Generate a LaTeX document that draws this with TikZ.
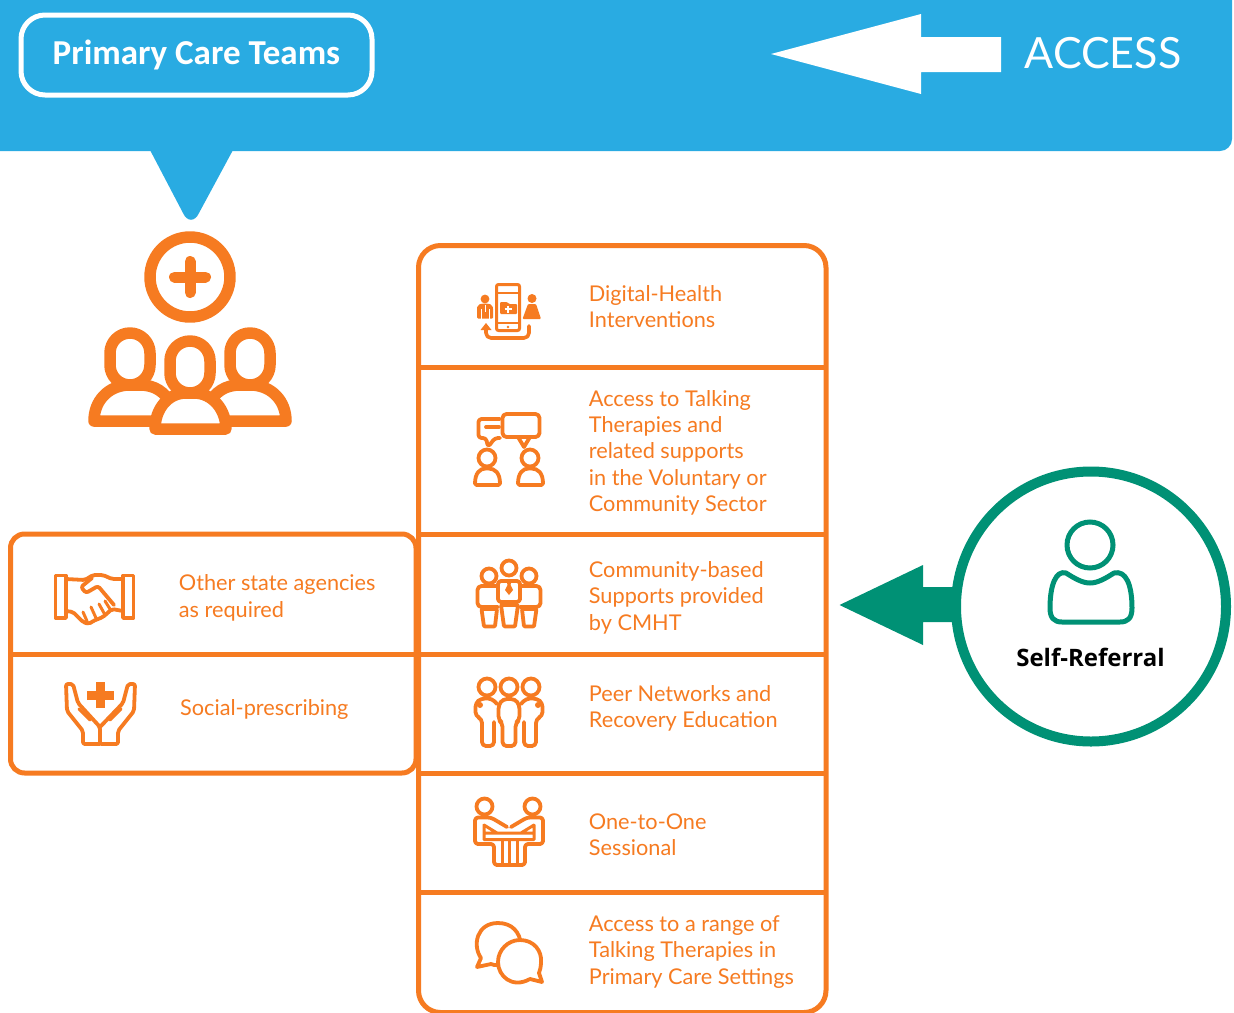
\documentclass[tikz,border=0pt]{standalone}
\usepackage{fontspec}
\setmainfont{Lato}
\newfontfamily\titlefont{Carlito}
\newfontfamily\selffont{Open Sans}
\definecolor{sky}{HTML}{29ABE2}
\definecolor{orng}{HTML}{F67B21}
\definecolor{teal}{HTML}{009175}
\tikzset{
  panel/.style={draw=orng,line width=5pt,fill=white},
  rowline/.style={draw=orng,line width=5pt},
  rowtext/.style={anchor=west,inner sep=0pt,align=left,text=orng,font=\fontsize{21.7}{26.4}\selectfont},
  ico/.style={draw=orng,line width=3.8pt,line join=round,line cap=round},
  icofill/.style={fill=orng,draw=none},
  bigico/.style={draw=orng,line width=11.5pt,line join=round,line cap=round},
}
\begin{document}
\begin{tikzpicture}[x=1pt,y=-1pt]
\useasboundingbox (0,0) rectangle (1234,1012);
% --- blue banner
\fill[sky,rounded corners=12pt] (-20,-20) -- (1232,-20) -- (1232,151) -- (-20,151) -- cycle;
\fill[sky] (150,150) -- (183,213) .. controls (187,222) and (195,222) .. (199,213) -- (233,150) -- cycle;
\node[draw=white,line width=5pt,rounded corners=24pt,minimum width=351pt,minimum height=80pt,inner sep=0pt,
  text=white,font=\titlefont\bfseries\fontsize{35}{40}\selectfont] (primary) at (196.5,55) {\raisebox{-1pt}{Primary Care Teams}};
\fill[white] (771,54) -- (921,14) -- (921,37) -- (1001,37) -- (1001,72) -- (921,72) -- (921,94) -- cycle;
\node[text=white,inner sep=0pt,font=\fontsize{43}{48}\selectfont,anchor=center] (access) at (1103,53.5) {ACCESS};
% --- team icon
\draw[bigico] (190,277) circle (40);
\draw[draw=orng,line width=11pt,line cap=round] (174.5,277) -- (205.5,277) (190,261.5) -- (190,292.5);
\foreach \hx/\hy in {130/333,250/333,190/341}{
  \draw[bigico,rounded corners=20pt] (\hx-20,\hy) rectangle (\hx+20,\hy+52);
}
\draw[bigico] (94,421) .. controls (94,401) and (108,386) .. (128,385) -- (140,385) .. controls (155,385) and (165,392) .. (172,405) (94,421) -- (160,421);
\draw[bigico] (286,421) .. controls (286,401) and (272,386) .. (252,385) -- (240,385) .. controls (225,385) and (215,392) .. (208,405) (286,421) -- (220,421);
\draw[bigico,fill=white] (155,429) .. controls (155,409) and (168,393) .. (186,393) -- (194,393) .. controls (212,393) and (226,409) .. (226,429) -- cycle;
% --- panels
\draw[panel,rounded corners=14pt] (10.5,534) rectangle (416,773);
\draw[panel,rounded corners=22pt] (418.5,245.5) rectangle (826,1012.5);
\foreach \yy in {367,534,654,773,892}{ \draw[rowline] (418.5,\yy) -- (826,\yy); }
\draw[rowline] (10.5,654) -- (418.5,654);
% --- texts
\node[rowtext] (t1) at (588.7,306.5) {Digital-Health\\Interventions};
\node[rowtext] (t2) at (588.7,452.7) {Access to Talking\\Therapies and\\related supports\\in the Voluntary or\\Community Sector};
\node[rowtext] (t3) at (588.7,597.5) {Community-based\\Supports provided\\by CMHT};
\node[rowtext] (t4) at (588.7,708.5) {Peer Networks and\\Recovery Education};
\node[rowtext] (t5) at (588.7,835) {One-to-One\\Sessional};
\node[rowtext] (t6) at (588.7,952) {Access to a range of\\Talking Therapies in\\Primary Care Settings};
\node[rowtext] (t7) at (178.7,598) {Other state agencies\\as required};
\node[rowtext] (t8) at (180,709) {Social-prescribing};
% --- digital icon
\draw[ico,line width=3pt,rounded corners=2pt] (496.5,284.5) rectangle (519.5,330.5);
\draw[ico,line width=2.4pt] (496.5,293) -- (519.5,293) (496.5,323) -- (519.5,323);
\fill[orng,rounded corners=1pt] (500,302) -- (507,302) -- (509,304) -- (517,304) -- (517,314) -- (500,314) -- cycle;
\draw[white,line width=1.5pt] (504.5,309) -- (511.5,309) (508,305.5) -- (508,312.5);
\fill[orng] (508,327) circle (1.3);
\draw[ico,line width=3.6pt,rounded corners=5pt] (529,326) -- (529,338) -- (486,338) -- (486,328);
\fill[orng] (480.5,330) -- (486,323) -- (491.5,330) -- cycle;
% doctor
\fill[orng] (485,299) circle (4.4);
\fill[orng,rounded corners=1pt] (477,318.5) -- (477,308) .. controls (478,304) and (480,304) .. (485,303.5) .. controls (490,304) and (492,304) .. (493,308) -- (493,318.5) -- cycle;
\draw[white,line width=1pt] (485,305) -- (485,312) (481,309) -- (481,318.5) (489,309) -- (489,318.5);
% nurse
\fill[orng] (532,298.5) circle (4.5);
\fill[orng,rounded corners=1pt] (528,304) -- (536,304) -- (541,319) -- (522.5,319) -- cycle;
% --- talking icon
\draw[ico,rounded corners=3pt] (500,438) -- (495,438) -- (488,447) -- (486,438) -- (478.5,438) -- (478.5,419) -- (500,419);
\draw[ico] (486,427) -- (499,427);
\draw[ico,rounded corners=4pt] (502.5,414) rectangle (539.5,437);
\draw[ico] (518,437) -- (524,447) -- (530,437);
\draw[ico,fill=white] (487,458) circle (8.5);
\draw[ico,fill=white] (530,458) circle (8.5);
\draw[ico,rounded corners=1.5pt] (475,485) .. controls (475,473) and (480,468.5) .. (487,468.5) .. controls (495,468.5) and (500,473) .. (500,485) -- cycle;
\draw[ico,rounded corners=1.5pt] (518,485) .. controls (518,473) and (523,468.5) .. (530,468.5) .. controls (538,468.5) and (543,473) .. (543,485) -- cycle;
% --- community icon
\draw[ico] (489,576) circle (7.5);
\draw[ico] (509,568) circle (7.5);
\draw[ico] (529,576) circle (7.5);
\draw[ico,rounded corners=4pt] (498,586) -- (477.5,586) -- (477.5,607) -- (498,607);
\draw[ico,rounded corners=4pt] (520,586) -- (540.5,586) -- (540.5,607) -- (520,607);
\draw[ico,rounded corners=3pt] (498,581) -- (520,581) -- (520,602) -- (498,602) -- cycle;
\draw[ico,rounded corners=1pt] (481.5,609) -- (497,609) -- (495,626.5) -- (484,626.5) -- cycle;
\draw[ico,rounded corners=1pt] (501,605) -- (518,605) -- (515,626.5) -- (504,626.5) -- cycle;
\draw[ico,rounded corners=1pt] (522,609) -- (536.5,609) -- (534,626.5) -- (524,626.5) -- cycle;
\fill[orng] (506.5,581) -- (511.5,581) -- (510.5,585) -- (513,590) -- (509,595) -- (505,590) -- (507.5,585) -- cycle;
% --- peer icon
\draw[ico] (487,687) circle (8.5);
\draw[ico] (509,687) circle (8.5);
\draw[ico] (531,687) circle (8.5);
\draw[ico,rounded corners=4pt] (497,704) -- (492,698.5) -- (481,698.5) -- (475.5,703) -- (475.5,716) -- (482,719) -- (482,746) -- (494,746) -- (494,722);
\draw[ico,rounded corners=4pt] (521,704) -- (526,698.5) -- (537,698.5) -- (542.5,703) -- (542.5,716) -- (536,719) -- (536,746) -- (524,746) -- (524,722);
\draw[ico,rounded corners=4pt] (498.5,720) -- (498.5,705) -- (503,699) -- (515,699) -- (519.5,705) -- (519.5,720) -- (515.5,723) -- (515.5,746) -- (502.5,746) -- (502.5,723) -- cycle;
\fill[orng] (480,705) circle (3) (538,705) circle (3);
% --- one-to-one icon
\draw[ico] (484.5,806.5) circle (8);
\draw[ico] (532.5,806.5) circle (8);
\draw[ico,rounded corners=3pt] (507,827) -- (491,817.5) -- (475,817.5) -- (475,844) -- (494,844) -- (494,865) -- (525,865) -- (525,844) -- (543,844) -- (543,817.5) -- (527,817.5) -- (511,827);
\draw[ico,line width=3pt] (484,825) -- (484,833) -- (534,833) -- (534,825) (484,825) -- (497,833) (534,825) -- (521,833) (484,833) -- (484,839.5) -- (534,839.5) -- (534,833);
\draw[ico,line width=3pt] (502,841) -- (502,864) (509.5,841) -- (509.5,864) (517,841) -- (517,864);
% --- bubbles icon
\draw[ico,fill=white] (481,958) .. controls (472,945) and (477,923) .. (498,923) .. controls (512,923) and (520,932) .. (521,945) .. controls (515,960) and (498,968) .. (491,964) -- (477,967) -- cycle;
\draw[ico,fill=white] (520,940) .. controls (534,940) and (542,951) .. (541,962) .. controls (541,967) and (540,970) .. (539,973) -- (542,982) -- (530,979) .. controls (512,989) and (498,976) .. (498,962) .. controls (498,950) and (508,940) .. (520,940) -- cycle;
% --- handshake icon
\draw[ico] (55.5,575.5) rectangle (66,618);
\draw[ico] (123,575.5) rectangle (133.5,618);
\draw[ico,rounded corners=2pt] (66,579) -- (85,580) -- (93,575) -- (103,575) -- (112,579) -- (123,579);
\draw[ico,rounded corners=2pt] (66,611) -- (73,612) -- (83,622) -- (89,624) -- (93,621) -- (103,617) -- (112,609) -- (123,611);
\draw[ico,rounded corners=2.5pt] (92,578) -- (81,587) -- (86,593) -- (98,586) -- (114,605);
\draw[ico,line width=3pt] (83,612) -- (87,621) (91,607) -- (96,618) (99,604) -- (104,613) (105,601) -- (110,609);
% --- care hands icon
\fill[orng] (95.5,682) rectangle (104.5,708);
\fill[orng] (87,690.5) rectangle (114,699.5);
\draw[ico,rounded corners=2pt] (100,744) -- (83,744) -- (83,731) -- (67,711) -- (66,684) -- (73,684) -- (78,703) -- (100,727) -- (100,744) -- (118,744) -- (118,731) -- (134,711) -- (135,684) -- (128,684) -- (123,703) -- (100,727);
\draw[ico,line width=3pt] (79,709) -- (90,720) (121,709) -- (110,720);
% --- self referral
\fill[teal] (839.5,605) -- (923,565) -- (923,587) -- (960,587) -- (960,622) -- (923,622) -- (923,645) -- cycle;
\node[circle,draw=teal,line width=10pt,fill=white,minimum size=270pt,inner sep=0pt] (selfc) at (1091,606.5) {};
\draw[teal,line width=5pt] (1090,545) circle (23);
\draw[teal,line width=5pt,line join=round] (1066,573) .. controls (1074,578) and (1082,583) .. (1090,583) .. controls (1098,583) and (1106,578) .. (1114,573) .. controls (1126,570) and (1132,585) .. (1132,608) .. controls (1132,618) and (1128,622) .. (1120,622) -- (1062,622) .. controls (1054,622) and (1050,618) .. (1050,608) .. controls (1050,585) and (1056,570) .. (1066,573) -- cycle;
\node[text=black,inner sep=0pt,font=\selffont\bfseries\fontsize{24}{28}\selectfont] (selft) at (1090.5,657) {Self-Referral};
\end{tikzpicture}
\end{document}
